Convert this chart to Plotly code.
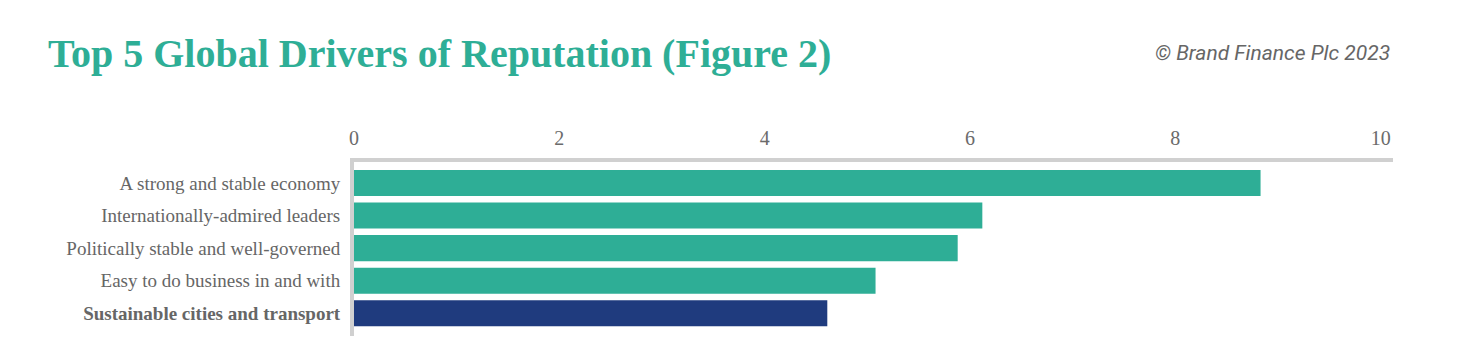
import plotly.graph_objects as go

categories = [
    "A strong and stable economy",
    "Internationally-admired leaders",
    "Politically stable and well-governed",
    "Easy to do business in and with",
    "Sustainable cities and transport",
]
values = [8.83, 6.12, 5.88, 5.08, 4.61]
highlight = [False, False, False, False, True]
x_ticks = [0, 2, 4, 6, 8, 10]

TEAL = "#2eae96"
NAVY = "#1f3b7e"
GRID = "#d0d0d0"

colors = [NAVY if h else TEAL for h in highlight]
tick_text = [f"<b>{c}</b>" if h else c for c, h in zip(categories, highlight)]

fig = go.Figure(
    go.Bar(
        x=values,
        y=categories,
        orientation="h",
        marker=dict(color=colors, line=dict(width=0)),
        width=0.8,
        hoverinfo="skip",
    )
)

fig.update_layout(
    width=1459,
    height=360,
    margin=dict(l=346, r=74, t=154, b=32),
    paper_bgcolor="white",
    plot_bgcolor="white",
    showlegend=False,
    font=dict(family="Liberation Serif", color="#666666"),
    xaxis=dict(
        side="top",
        range=[0, 10.12],
        tickvals=x_ticks,
        ticktext=[str(t) for t in x_ticks],
        showgrid=False,
        zeroline=False,
        showline=True,
        linecolor=GRID,
        linewidth=4,
        ticks="",
        tickfont=dict(family="Liberation Serif", size=20, color="#6b6b6b"),
        ticklabelstandoff=5,
    ),
    yaxis=dict(
        range=[4.70, -0.645],
        tickvals=categories,
        ticktext=tick_text,
        showgrid=False,
        zeroline=False,
        showline=True,
        linecolor=GRID,
        linewidth=4,
        ticks="",
        tickfont=dict(family="Liberation Serif", size=19, color="#666666"),
        ticklabelstandoff=6,
    ),
    annotations=[
        dict(
            text="<b>Top 5 Global Drivers of Reputation (Figure 2)</b>",
            xref="paper", yref="paper",
            x=0, xanchor="left",
            y=1, yanchor="top",
            xshift=-308, yshift=133,
            showarrow=False,
            font=dict(family="Liberation Serif", size=40, color=TEAL),
        ),
        dict(
            text="<i>© Brand Finance Plc 2023</i>",
            xref="paper", yref="paper",
            x=1, xanchor="right",
            y=1, yanchor="top",
            xshift=-1, yshift=123,
            showarrow=False,
            font=dict(family="Roboto", size=21, color="#666666"),
        ),
    ],
)

fig.write_html("out.html")
